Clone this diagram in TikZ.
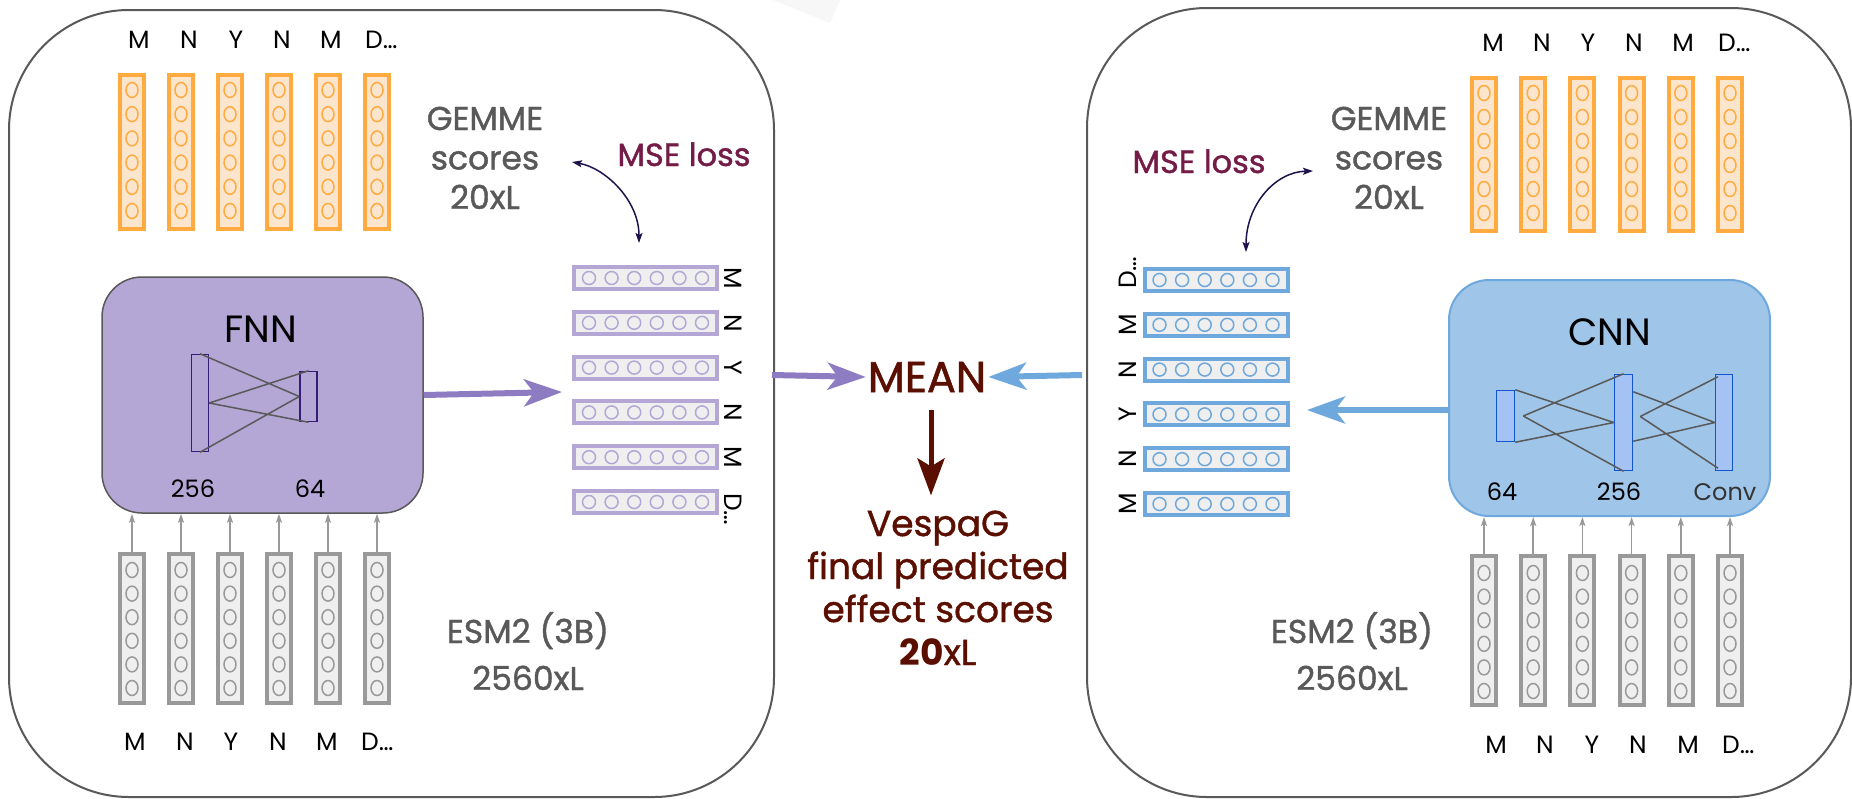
\documentclass[tikz,border=0pt]{standalone}
\usepackage{fontspec}
\setmainfont{Poppins}
\newfontfamily\medfont{Poppins}[RawFeature={embolden=1.2}]
\usepackage{xcolor}
\usetikzlibrary{arrows.meta, positioning, calc}

\definecolor{panelgray}{HTML}{595959}
\definecolor{gemstroke}{HTML}{FFAB40}
\definecolor{gemfill}{HTML}{FCE5CD}
\definecolor{esmstroke}{HTML}{999999}
\definecolor{cellfill}{HTML}{EFEFEF}
\definecolor{fnnfill}{HTML}{B4A7D6}
\definecolor{fnnlayer}{HTML}{351C75}
\definecolor{fnnarrow}{HTML}{8E7CC3}
\definecolor{cnnfill}{HTML}{9FC5E8}
\definecolor{cnnstroke}{HTML}{6FA8DC}
\definecolor{cnnlayer}{HTML}{1155CC}
\definecolor{cnnlayerfill}{HTML}{A4C2F4}
\definecolor{meanred}{HTML}{5B0F00}
\definecolor{msetext}{HTML}{741B47}
\definecolor{mseline}{HTML}{20124D}

\tikzset{
  panel/.style={draw=panelgray, line width=2pt, rounded corners=120pt},
  gemcol/.style={draw=gemstroke, fill=gemfill, line width=4pt, minimum width=24pt, minimum height=154pt, inner sep=0pt},
  esmcol/.style={draw=esmstroke, fill=cellfill, line width=4pt, minimum width=24pt, minimum height=149pt, inner sep=0pt},
  rowbox/.style={fill=cellfill, line width=4pt, minimum width=143pt, minimum height=22pt, inner sep=0pt},
  netbox/.style={rounded corners=40pt, minimum width=321pt, minimum height=236pt},
  layer/.style={line width=1.5pt, inner sep=0pt},
  wire/.style={draw=panelgray, line width=1.5pt},
  seqtxt/.style={font=\fontsize{25}{30}\selectfont, inner sep=0pt},
  graytxt/.style={font=\medfont\fontsize{33}{39.5}\selectfont, text=panelgray, align=center, inner sep=0pt},
  numtxt/.style={font=\fontsize{24}{28}\selectfont, inner sep=0pt},
  esmarrow/.style={draw=esmstroke, line width=1.5pt, -{Stealth[length=9pt, width=6pt, inset=2pt]}},
  bigarrow/.style={line width=6pt, -{Stealth[length=38pt, width=27pt, inset=10pt]}},
  msearrow/.style={draw=mseline, line width=1.5pt, {Stealth[length=10pt, width=7pt, inset=2pt]}-{Stealth[length=10pt, width=7pt, inset=2pt]}},
}

\begin{document}
\begin{tikzpicture}[x=1pt, y=-1pt]
  \useasboundingbox (0,0) rectangle (1852,798);
  \fill[white] (0,0) rectangle (1852,798);
  \fill[black!3] (773,0) -- (840,0) -- (830,23) -- cycle;

  % left panel: FNN
  \draw[panel] (9,10) rectangle (774,797);
  \foreach \i in {0,...,5} {
    \node[gemcol] (gemL\i) at (132+49*\i,152) {};
    \foreach \j in {0,...,5}
      \draw[gemstroke, line width=1.5pt] (132+49*\i,90+24.2*\j) ellipse (6 and 7.5);
  }
  \foreach \x/\t [count=\k] in {139/M,189/N,236/Y,282/N,331/M,374/D\rlap{…}}
    \node[seqtxt, anchor=base] (topL\k) at (\x,48) {\t};
  \node[graytxt, anchor=base] (gemLtxt) at (485,209) {GEMME\\scores\\20xL};

  \node[netbox, draw=panelgray, line width=1.5pt, fill=fnnfill] (fnn) at (262.5,395) {};
  \node[font=\fontsize{38}{44}\selectfont, anchor=base, inner sep=0pt] (fnnT) at (261,342) {FNN};
  \node[layer, draw=fnnlayer, minimum width=17pt, minimum height=97pt] (fnnA) at (200,403) {};
  \node[layer, draw=fnnlayer, minimum width=17pt, minimum height=50pt] (fnnB) at (308.5,396.5) {};
  \draw[wire] (fnnA.north) -- (fnnB.west) (fnnA.south) -- (fnnB.west)
              (fnnA.east) -- (fnnB.north) (fnnA.east) -- (fnnB.south);
  \node[numtxt, anchor=base] (fnnA256) at (193,497) {256};
  \node[numtxt, anchor=base] (fnnB64) at (310,497) {64};

  \foreach \i in {0,...,5} {
    \node[esmcol] (esmL\i) at (132+49*\i,628.5) {};
    \foreach \j in {0,...,5}
      \draw[esmstroke, line width=1.5pt] (132+49*\i,570+23.6*\j) ellipse (6 and 7.5);
    \draw[esmarrow] (esmL\i.north) -- (esmL\i.north |- fnn.south);
  }
  \foreach \x/\t [count=\k] in {135/M,185/N,231/Y,278/N,327/M,370/D\rlap{…}}
    \node[seqtxt, anchor=base] (botL\k) at (\x,750) {\t};
  \node[graytxt, anchor=base, font=\medfont\fontsize{33}{47}\selectfont] (esmLtxt) at (528,690) {ESM2 (3B)\\2560xL};

  \foreach \t [count=\k from 0] in {M,N,Y,N,M,D\rlap{…}} {
    \node[rowbox, draw=fnnfill] (predL\k) at (645.5,278+44.8*\k) {};
    \foreach \j in {0,...,5}
      \draw[fnnfill, line width=1.5pt] (589+22.6*\j,278+44.8*\k) circle (6.5);
    \node[seqtxt, rotate=-90] (predLlab\k) at (733,278+44.8*\k) {\t};
  }
  \coordinate (predLin) at (562,392);
  \draw[bigarrow, fnnarrow] (fnn.east) -- (predLin);

  \node[font=\medfont\fontsize{32}{38}\selectfont, text=msetext, anchor=base, inner sep=0pt] (mseL) at (684,166) {MSE loss};
  \coordinate (mseLa) at (572,162);
  \coordinate (mseLb) at (639,243);
  \draw[msearrow] (mseLa) .. controls (605,168) and (639,200) .. (mseLb);

  % right panel: CNN
  \draw[panel] (1087,8) rectangle (1851,797);
  \foreach \i in {0,...,5} {
    \node[gemcol, minimum height=153pt] (gemR\i) at (1484+49.2*\i,154.5) {};
    \foreach \j in {0,...,5}
      \draw[gemstroke, line width=1.5pt] (1484+49.2*\i,93+24*\j) ellipse (6 and 7.5);
  }
  \foreach \x/\t [count=\k] in {1493/M,1542/N,1588/Y,1634/N,1683/M,1727/D\rlap{…}}
    \node[seqtxt, anchor=base] (topR\k) at (\x,51) {\t};
  \node[graytxt, anchor=base] (gemRtxt) at (1389,209) {GEMME\\scores\\20xL};

  \node[netbox, draw=cnnstroke, line width=2pt, fill=cnnfill] (cnn) at (1609.5,398) {};
  \node[font=\fontsize{38}{44}\selectfont, anchor=base, inner sep=0pt] (cnnT) at (1610,345) {CNN};
  \node[layer, draw=cnnlayer, fill=cnnlayerfill, minimum width=18pt, minimum height=51pt] (cnnA) at (1505.5,416) {};
  \node[layer, draw=cnnlayer, fill=cnnlayerfill, minimum width=18pt, minimum height=96pt] (cnnB) at (1623.5,422.5) {};
  \node[layer, draw=cnnlayer, fill=cnnlayerfill, minimum width=17pt, minimum height=96pt] (cnnC) at (1724,422.5) {};
  \draw[wire] (cnnA.north east) -- (cnnB.west) (cnnA.south east) -- (cnnB.west)
              ($(cnnA.east)+(8,0)$) -- (cnnB.north) ($(cnnA.east)+(8,0)$) -- (cnnB.south);
  \draw[wire] ($(cnnB.north east)+(0,18)$) -- (cnnC.west) ($(cnnB.south east)+(0,-30)$) -- (cnnC.west)
              ($(cnnB.east)+(7,-6)$) -- ($(cnnC.north)+(-6,3)$) ($(cnnB.east)+(7,-6)$) -- ($(cnnC.south)+(-6,-3)$);
  \node[numtxt, anchor=base] (cnnA64) at (1502,500) {64};
  \node[numtxt, anchor=base] (cnnB256) at (1619,500) {256};
  \node[numtxt, anchor=base, text=black!80] (cnnCconv) at (1725,500) {Conv};

  \foreach \i in {0,...,5} {
    \node[esmcol] (esmR\i) at (1484+49.2*\i,630.5) {};
    \foreach \j in {0,...,5}
      \draw[esmstroke, line width=1.5pt] (1484+49.2*\i,573+23.6*\j) ellipse (6 and 7.5);
    \draw[esmarrow] (esmR\i.north) -- (esmR\i.north |- cnn.south);
  }
  \foreach \x/\t [count=\k] in {1496/M,1545/N,1592/Y,1638/N,1688/M,1731/D\rlap{…}}
    \node[seqtxt, anchor=base] (botR\k) at (\x,753) {\t};
  \node[graytxt, anchor=base, font=\medfont\fontsize{33}{47}\selectfont] (esmRtxt) at (1352,690) {ESM2 (3B)\\2560xL};

  \foreach \t [count=\k from 0] in {D\rlap{…},M,N,Y,N,M} {
    \node[rowbox, draw=cnnstroke] (predR\k) at (1216,280+44.8*\k) {};
    \foreach \j in {0,...,5}
      \draw[cnnstroke, line width=1.5pt] (1159.5+22.6*\j,280+44.8*\k) circle (6.5);
    \node[seqtxt, rotate=90] (predRlab\k) at (1128,280+44.8*\k) {\t};
  }
  \coordinate (predRin) at (1307,410);
  \draw[bigarrow, cnnstroke] (cnn.west |- predRin) -- (predRin);

  \node[font=\medfont\fontsize{32}{38}\selectfont, text=msetext, anchor=base, inner sep=0pt] (mseR) at (1199,173) {MSE loss};
  \coordinate (mseRa) at (1246,252);
  \coordinate (mseRb) at (1313,171);
  \draw[msearrow] (mseRa) .. controls (1246,205) and (1275,172) .. (mseRb);

  % centre: mean of both
  \node[font=\medfont\fontsize{43}{50}\selectfont, text=meanred, anchor=base, inner sep=2pt] (mean) at (927,392) {MEAN};
  \node[font=\medfont\fontsize{36}{43}\selectfont, text=meanred, align=center, anchor=base, inner sep=2pt] (vespa) at (938,665)
    {VespaG\\final predicted\\effect scores\\{\fontspec{Poppins}[FakeBold=0]\bfseries 20}xL};
  \coordinate (meanLin) at (772,375);
  \coordinate (meanRin) at (1082,375);
  \draw[bigarrow, fnnarrow] (meanLin) -- (mean.west);
  \draw[bigarrow, cnnstroke] (meanRin) -- (mean.east);
  \draw[meanred, line width=5pt, -{Stealth[length=37pt, width=27pt, inset=8pt]}, shorten <=16pt, shorten >=13pt]
    ([xshift=4pt]mean.south) -- ([xshift=4pt]mean.south |- vespa.north);
\end{tikzpicture}
\end{document}
